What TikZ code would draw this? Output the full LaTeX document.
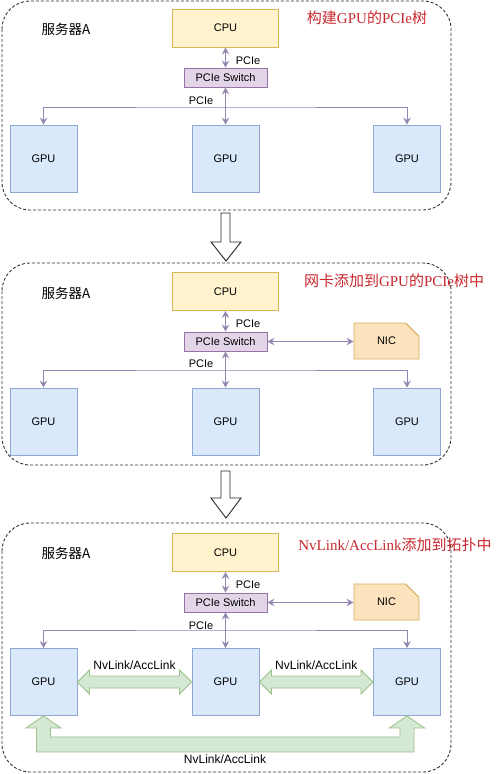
\documentclass[tikz,border=0pt]{standalone}
\usepackage{fontspec}
\setmainfont{Liberation Sans}
\newfontfamily\cjk{Noto Sans CJK SC}
\newfontfamily\serifrm{Liberation Serif}
\usetikzlibrary{arrows.meta,calc,shapes.misc}
\definecolor{cpufill}{HTML}{FFF2CC}
\definecolor{cpuline}{HTML}{D6B656}
\definecolor{swfill}{HTML}{E1D5E7}
\definecolor{swline}{HTML}{9673A6}
\definecolor{gpufill}{HTML}{DAE8FC}
\definecolor{gpuline}{HTML}{8EA9CF}
\definecolor{nicfill}{HTML}{FCE3BD}
\definecolor{nicline}{HTML}{D9AD62}
\definecolor{nvfill}{HTML}{D5E8D4}
\definecolor{nvline}{HTML}{9CC08A}
\definecolor{linkcol}{HTML}{9486B0}
\definecolor{titlered}{HTML}{C8282E}
\begin{document}
\begin{tikzpicture}[x=1pt, y=-1pt,
    font=\fontsize{11}{13}\selectfont,
    box/.style={draw, line width=0.9pt, inner sep=0pt},
    cpubox/.style={box, draw=cpuline, fill=cpufill, minimum width=106pt, minimum height=38pt},
    swbox/.style={box, draw=swline, fill=swfill, minimum width=83pt, minimum height=19pt},
    gpubox/.style={box, draw=gpuline, fill=gpufill, minimum width=67pt, minimum height=67pt},
    nicbox/.style={box, draw=nicline, fill=nicfill, chamfered rectangle,
        chamfered rectangle corners=north east, chamfered rectangle sep=13pt,
        minimum width=65pt, minimum height=36pt},
    panel/.style={draw=black!80, line width=0.9pt, dash pattern=on 3pt off 2pt, rounded corners=28pt},
    link/.style={draw=linkcol, line width=1pt, {Stealth[length=7pt,width=7.5pt,inset=2.5pt]}-{Stealth[length=7pt,width=7.5pt,inset=2.5pt]}},
    nvarrow/.style={draw=nvline, fill=nvfill, line width=0.8pt, line join=miter},
    hollow/.style={draw=black!85, fill=white, line width=0.9pt},
    srvlabel/.style={anchor=west, font=\cjk\fontsize{13.5}{15}\selectfont},
    steptitle/.style={text=titlered, font=\fontsize{15}{17}\selectfont},
    pcielabel/.style={inner sep=1pt}
  ]
  \useasboundingbox[fill=white] (0,0) rectangle (500,774);

  % panel 1
  \draw[panel] (2,1) rectangle (451,210);
  \node[srvlabel] (srvA) at (38,29) {服务器A};
  \node[steptitle] (titleA) at (367,18) {{\cjk 构建}{\serifrm GPU}{\cjk 的}{\serifrm PCIe}{\cjk 树}};
  \node[cpubox] (cpuA) at (225.5,28) {CPU};
  \node[swbox] (swA) at (225.5,77.5) {PCIe Switch};
  \node[gpubox] (gpuA1) at (43.5,158.5) {GPU};
  \node[gpubox] (gpuA2) at (225.5,158.5) {GPU};
  \node[gpubox] (gpuA3) at (407,158.5) {GPU};
  \coordinate (busA) at (225.5,107);
  \draw[link] (cpuA) -- (swA);
  \draw[link] (swA) -- (gpuA2);
  \draw[link] (gpuA1.north) |- (busA) -| (gpuA3.north);
  \node[pcielabel] (pcieA1) at (248,61) {PCIe};
  \node[pcielabel] (pcieA2) at (201,101) {PCIe};

  \draw[hollow] (221,213) -- (230,213) -- (230,242) -- (241,242) -- (226,261)
    -- (211,242) -- (221,242) -- cycle;

  % panel 2
  \draw[panel] (2,263) rectangle (451,465);
  \node[srvlabel] (srvB) at (38,293) {服务器A};
  \node[steptitle] (titleB) at (394,281) {{\cjk 网卡添加到}{\serifrm GPU}{\cjk 的}{\serifrm PCIe}{\cjk 树中}};
  \node[cpubox] (cpuB) at (225.5,291.5) {CPU};
  \node[swbox] (swB) at (225.5,341.5) {PCIe Switch};
  \node[nicbox] (nicB) at (386.5,341) {NIC};
  \node[gpubox] (gpuB1) at (43.5,421.5) {GPU};
  \node[gpubox] (gpuB2) at (225.5,421.5) {GPU};
  \node[gpubox] (gpuB3) at (407,421.5) {GPU};
  \coordinate (busB) at (225.5,370);
  \draw[link] (cpuB) -- (swB);
  \draw[link] (swB) -- (gpuB2);
  \draw[link] (swB.east) -- (nicB.west |- swB.east);
  \draw[link] (gpuB1.north) |- (busB) -| (gpuB3.north);
  \node[pcielabel] (pcieB1) at (248,324) {PCIe};
  \node[pcielabel] (pcieB2) at (201,364) {PCIe};

  \draw[hollow] (221,471) -- (230,471) -- (230,498) -- (241,498) -- (226,518)
    -- (211,498) -- (221,498) -- cycle;

  % panel 3
  \draw[panel] (2,523) rectangle (451,772);
  \node[srvlabel] (srvC) at (38,553) {服务器A};
  \node[steptitle] (titleC) at (395,545) {{\serifrm NvLink/AccLink}{\cjk 添加到拓扑中}};
  \node[cpubox] (cpuC) at (225.5,552.5) {CPU};
  \node[swbox] (swC) at (225.5,602.5) {PCIe Switch};
  \node[nicbox] (nicC) at (386.5,602) {NIC};
  \node[gpubox] (gpuC1) at (43.5,682) {GPU};
  \node[gpubox] (gpuC2) at (225.5,682) {GPU};
  \node[gpubox] (gpuC3) at (407,682) {GPU};
  \coordinate (busC) at (225.5,630);
  \draw[link] (cpuC) -- (swC);
  \draw[link] (swC) -- (gpuC2);
  \draw[link] (swC.east) -- (nicC.west |- swC.east);
  \draw[link] (gpuC1.north) |- (busC) -| (gpuC3.north);
  \node[pcielabel] (pcieC1) at (248,585) {PCIe};
  \node[pcielabel] (pcieC2) at (201,626) {PCIe};

  \draw[nvarrow] (gpuC1.east) -- ++(12,-12) -- ++(0,6) -- ($(gpuC2.west)+(-12,-6)$)
    -- ++(0,-6) -- (gpuC2.west) -- ++(-12,12) -- ++(0,-6) -- ($(gpuC1.east)+(12,6)$)
    -- ++(0,6) -- cycle;
  \draw[nvarrow] (gpuC2.east) -- ++(12,-12) -- ++(0,6) -- ($(gpuC3.west)+(-12,-6)$)
    -- ++(0,-6) -- (gpuC3.west) -- ++(-12,12) -- ++(0,-6) -- ($(gpuC2.east)+(12,6)$)
    -- ++(0,6) -- cycle;
  \draw[nvarrow] (gpuC1.south) -- ++(17.5,12) -- ++(-10.5,0) |- ($(gpuC3.south)+(-7,21)$)
    -- ++(0,-9) -- ++(-10.5,0) -- (gpuC3.south) -- ++(17.5,12) -- ++(-10.5,0)
    |- ($(gpuC1.south)+(-7,36)$) -- ++(0,-24) -- ++(-10.5,0) -- cycle;
  \node (nvC1) at ($(gpuC1.east)!0.5!(gpuC2.west)+(0,-17)$) {\fontsize{12}{14}\selectfont NvLink/AccLink};
  \node (nvC2) at ($(gpuC2.east)!0.5!(gpuC3.west)+(0,-17)$) {\fontsize{12}{14}\selectfont NvLink/AccLink};
  \node (nvC3) at (225,759) {\fontsize{12}{14}\selectfont NvLink/AccLink};
\end{tikzpicture}
\end{document}
